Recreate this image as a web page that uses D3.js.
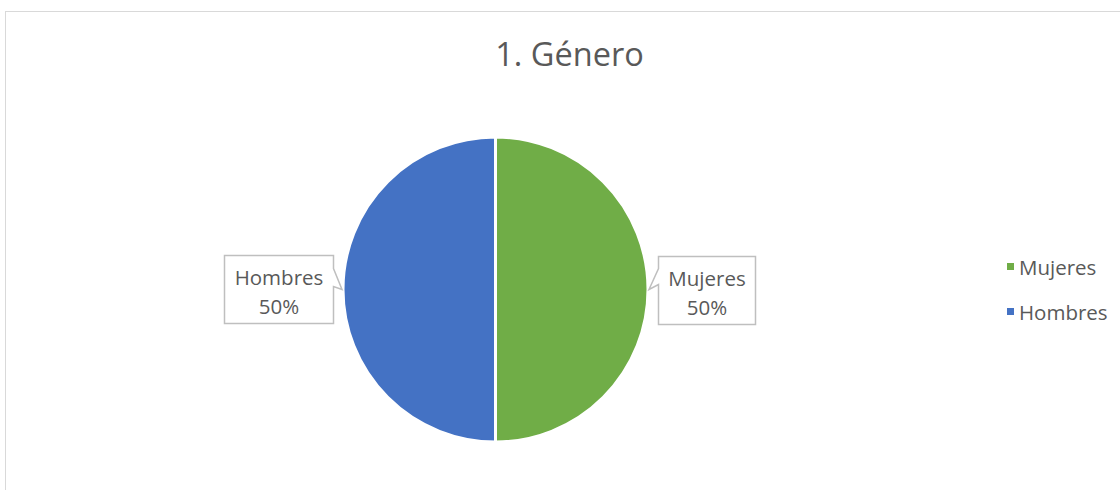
<!DOCTYPE html>
<html>
<head>
<meta charset="utf-8">
<script src="https://cdn.jsdelivr.net/npm/d3@7"></script>
<style>
  html, body { margin: 0; padding: 0; background: #ffffff; }
  svg { display: block; font-family: "Open Sans", sans-serif; }
</style>
</head>
<body>
<svg id="chart" width="1120" height="490"></svg>
<script>
const title = "1. Género";
const categories = ["Mujeres", "Hombres"];
const values = [50, 50];
const colors = ["#70ad47", "#4472c4"];

const svg = d3.select("#chart");
const W = 1120, H = 490;

// chart area border
svg.append("rect")
  .attr("x", 5.5).attr("y", 11.5)
  .attr("width", W + 20).attr("height", H + 20)
  .attr("fill", "#ffffff").attr("stroke", "#d9d9d9").attr("stroke-width", 1);

// title
svg.append("text")
  .attr("x", 569.5).attr("y", 66)
  .attr("text-anchor", "middle")
  .attr("font-size", 32.5)
  .attr("fill", "#595959")
  .text(title);

const cx = 495.5, cy = 289.5, R = 152.5;
const data = categories.map((c, i) => ({ name: c, value: values[i], color: colors[i] }));

const pie = d3.pie().value(d => d.value).sort(null);
const arc = d3.arc().innerRadius(0).outerRadius(R);
const arcs = pie(data);

const g = svg.append("g").attr("transform", `translate(${cx},${cy})`);
g.selectAll("path.slice")
  .data(arcs)
  .enter().append("path")
  .attr("class", "slice")
  .attr("d", arc)
  .attr("fill", d => d.data.color)
  .attr("stroke", "#ffffff")
  .attr("stroke-width", 3)
  .attr("stroke-linejoin", "round");

// callout labels
const fmt = d3.format(".0%");
const total = d3.sum(values);
const lineH = 29, padX = 10, boxH = 68, gap = 9;

arcs.forEach(a => {
  const mid = (a.startAngle + a.endAngle) / 2;
  const tipX = cx + (R + 1) * Math.sin(mid);
  const tipY = cy - (R + 1) * Math.cos(mid);
  const right = Math.sin(mid) >= 0;

  const lg = svg.append("g");
  const t1 = lg.append("text").attr("font-size", 20.5).attr("fill", "#595959")
    .attr("text-anchor", "middle").text(a.data.name);
  const t2 = lg.append("text").attr("font-size", 20.5).attr("fill", "#595959")
    .attr("text-anchor", "middle").text(fmt(a.data.value / total));
  const tw = Math.max(t1.node().getComputedTextLength(), t2.node().getComputedTextLength());
  const bw = Math.round(tw + padX * 2);
  const top = Math.round(tipY - boxH / 2) + 0.5;
  const bottom = top + boxH;
  let left, rgt, path;
  if (right) {
    left = Math.round(tipX + gap) + 0.5; rgt = left + bw;
    path = `M${left},${top} H${rgt} V${bottom} H${left} V${tipY - 5} L${tipX},${tipY} L${left},${tipY - 21} Z`;
  } else {
    rgt = Math.round(tipX - gap) + 0.5; left = rgt - bw;
    path = `M${left},${top} H${rgt} V${tipY - 21} L${tipX},${tipY} L${rgt},${tipY - 3} V${bottom} H${left} Z`;
  }
  lg.insert("path", "text").attr("d", path)
    .attr("fill", "#ffffff").attr("stroke", "#bfbfbf").attr("stroke-width", 1.5);
  const mx = (left + rgt) / 2;
  t1.attr("x", mx).attr("y", top + 29);
  t2.attr("x", mx).attr("y", top + 29 + lineH);
});

// legend
const leg = svg.append("g").attr("transform", "translate(1007,263)");
const items = leg.selectAll("g").data(data).enter().append("g")
  .attr("transform", (d, i) => `translate(0,${i * 45})`);
items.append("rect").attr("width", 7).attr("height", 7).attr("fill", d => d.color);
items.append("text").attr("x", 12).attr("y", 12)
  .attr("font-size", 20.5).attr("fill", "#595959").text(d => d.name);
</script>
</body>
</html>
